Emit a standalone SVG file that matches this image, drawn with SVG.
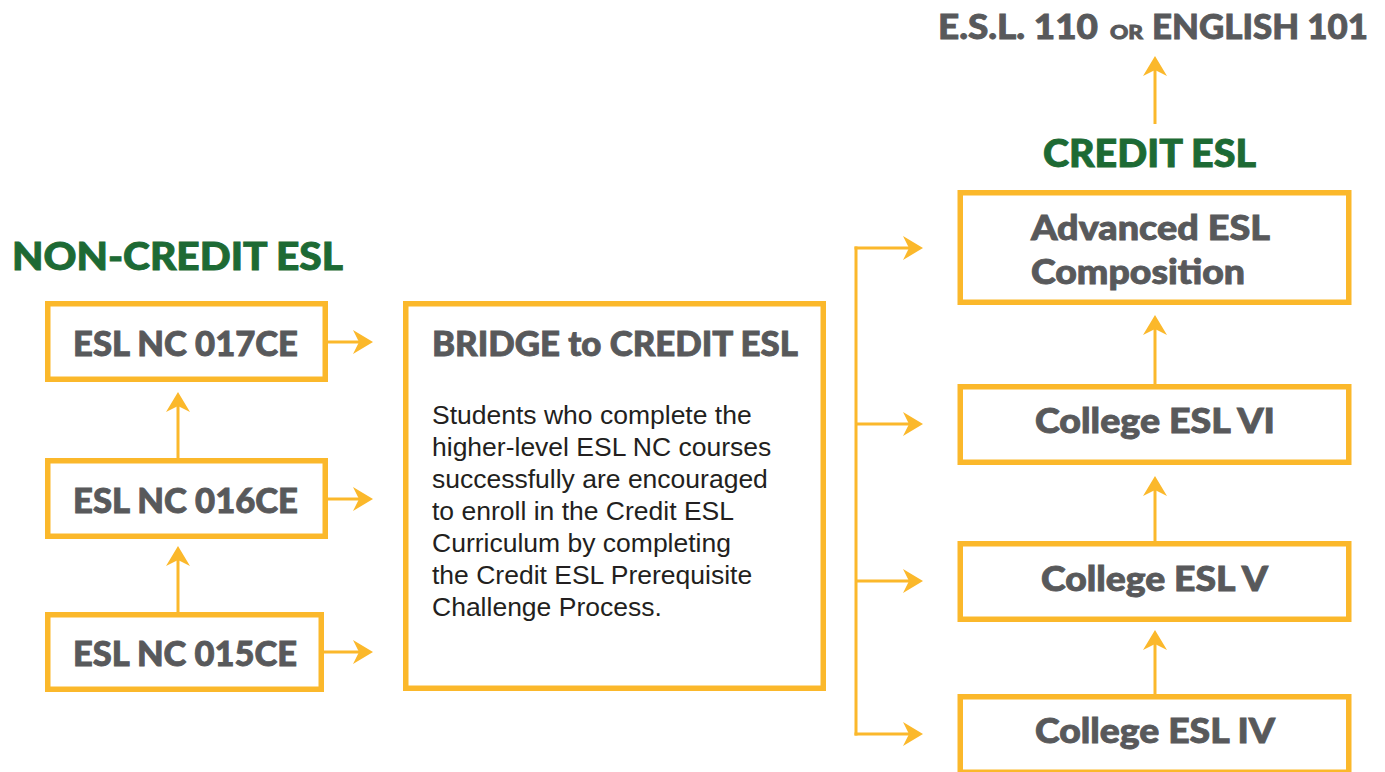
<svg xmlns="http://www.w3.org/2000/svg" width="1385" height="772" viewBox="0 0 1385 772">
<style>
.box{fill:#fff;stroke:#FBB82B;stroke-width:5.5}
.lbl{font-family:Lato,"Liberation Sans",sans-serif;font-weight:900;fill:#58595B;stroke:#58595B;stroke-width:0.9;font-size:35px}
.head{font-family:Lato,"Liberation Sans",sans-serif;font-weight:900;fill:#1D6A34;stroke:#1D6A34;stroke-width:0.9;font-size:37px}
.body{font-family:"Liberation Sans",Arial,sans-serif;fill:#231F20;font-size:26.5px}
.con{fill:none;stroke:#FBB82B;stroke-width:3}
</style>
<defs>
<marker id="ah" viewBox="0 0 20 24" refX="6" refY="12" markerWidth="20" markerHeight="24" markerUnits="userSpaceOnUse" orient="auto">
<path d="M0,0 L20,12 L0,24 L6,12 Z" fill="#FBB82B"/>
</marker>
</defs>
<rect width="1385" height="772" fill="#fff"/>

<text class="head" x="12" y="270" textLength="331" lengthAdjust="spacingAndGlyphs">NON-CREDIT ESL</text>
<text class="head" x="1043" y="167" textLength="213" lengthAdjust="spacingAndGlyphs">CREDIT ESL</text>

<g id="target">
<text class="lbl" y="39" font-size="33"><tspan x="938" textLength="160" lengthAdjust="spacingAndGlyphs">E.S.L. 110</tspan><tspan x="1110" font-size="19.5" textLength="33" lengthAdjust="spacingAndGlyphs">OR</tspan><tspan x="1152" textLength="216" lengthAdjust="spacingAndGlyphs">ENGLISH 101</tspan></text>
</g>

<g id="connectors" class="con">
<line x1="328" y1="342" x2="359" y2="342" marker-end="url(#ah)"/>
<line x1="328" y1="499" x2="359" y2="499" marker-end="url(#ah)"/>
<line x1="324" y1="652" x2="359" y2="652" marker-end="url(#ah)"/>
<line x1="178" y1="458" x2="178" y2="406" marker-end="url(#ah)"/>
<line x1="178" y1="612" x2="178" y2="560" marker-end="url(#ah)"/>
<line x1="856" y1="246.5" x2="856" y2="735.5"/>
<line x1="854.5" y1="248" x2="909" y2="248" marker-end="url(#ah)"/>
<line x1="856" y1="424" x2="909" y2="424" marker-end="url(#ah)"/>
<line x1="856" y1="581" x2="909" y2="581" marker-end="url(#ah)"/>
<line x1="854.5" y1="734" x2="909" y2="734" marker-end="url(#ah)"/>
<line x1="1155" y1="384" x2="1155" y2="329" marker-end="url(#ah)"/>
<line x1="1155" y1="541" x2="1155" y2="490" marker-end="url(#ah)"/>
<line x1="1155" y1="695" x2="1155" y2="644" marker-end="url(#ah)"/>
<line x1="1155" y1="124" x2="1155" y2="70" marker-end="url(#ah)"/>
</g>

<g id="nc017">
<rect class="box" x="47.75" y="303.75" width="277.5" height="75.5"/>
<text class="lbl" x="73" y="356" textLength="225" lengthAdjust="spacingAndGlyphs">ESL NC 017CE</text>
</g>
<g id="nc016">
<rect class="box" x="47.75" y="460.75" width="277.5" height="75.5"/>
<text class="lbl" x="73" y="513" textLength="225" lengthAdjust="spacingAndGlyphs">ESL NC 016CE</text>
</g>
<g id="nc015">
<rect class="box" x="47.75" y="614.75" width="273.5" height="74.5"/>
<text class="lbl" x="73" y="666" textLength="224" lengthAdjust="spacingAndGlyphs">ESL NC 015CE</text>
</g>

<g id="bridge">
<rect class="box" x="405.75" y="303.75" width="417.5" height="384.5"/>
<text class="lbl" x="432" y="356" font-size="33" textLength="366" lengthAdjust="spacingAndGlyphs">BRIDGE to CREDIT ESL</text>
<text class="body" x="432" y="424">Students who complete the</text>
<text class="body" x="432" y="456">higher-level ESL NC courses</text>
<text class="body" x="432" y="488">successfully are encouraged</text>
<text class="body" x="432" y="520">to enroll in the Credit ESL</text>
<text class="body" x="432" y="552">Curriculum by completing</text>
<text class="body" x="432" y="584">the Credit ESL Prerequisite</text>
<text class="body" x="432" y="616">Challenge Process.</text>
</g>

<g id="advanced">
<rect class="box" x="960.25" y="192.75" width="388.5" height="109.5"/>
<text class="lbl" x="1031" y="240" textLength="239" lengthAdjust="spacingAndGlyphs">Advanced ESL</text>
<text class="lbl" x="1031" y="284" textLength="214" lengthAdjust="spacingAndGlyphs">Composition</text>
</g>
<g id="esl6">
<rect class="box" x="960.25" y="386.75" width="388.5" height="75.5"/>
<text class="lbl" x="1035" y="433" textLength="240" lengthAdjust="spacingAndGlyphs">College ESL VI</text>
</g>
<g id="esl5">
<rect class="box" x="960.25" y="543.75" width="388.5" height="75.5"/>
<text class="lbl" x="1041" y="591" textLength="227" lengthAdjust="spacingAndGlyphs">College ESL V</text>
</g>
<g id="esl4">
<rect class="box" x="960.25" y="696.75" width="388.5" height="75.5"/>
<text class="lbl" x="1035" y="743" textLength="240" lengthAdjust="spacingAndGlyphs">College ESL IV</text>
</g>
</svg>
